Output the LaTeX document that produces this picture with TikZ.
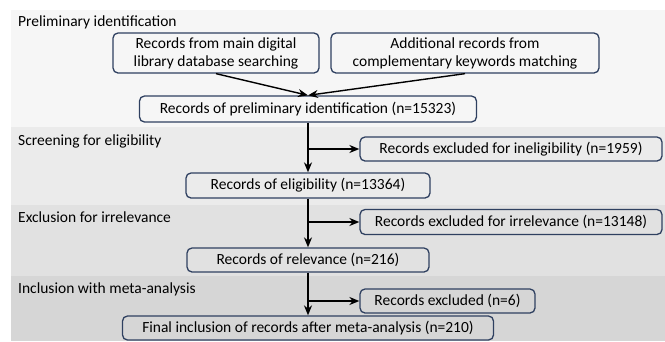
\documentclass[tikz,border=0pt]{standalone}
\usepackage{fontspec}
\setmainfont{Carlito}
\usetikzlibrary{arrows.meta}
\definecolor{bandA}{HTML}{F6F6F6}
\definecolor{bandB}{HTML}{EBEBEB}
\definecolor{bandC}{HTML}{E1E1E1}
\definecolor{bandD}{HTML}{D6D6D6}
\definecolor{boxblue}{HTML}{2F4060}
\begin{document}
\begin{tikzpicture}[x=1pt,y=-1pt,
  box/.style={draw=boxblue, line width=1.3pt, rounded corners=5pt, inner sep=0pt,
    font=\fontsize{15.5}{18}\selectfont, align=center},
  arr/.style={-{Stealth[length=10pt,width=8pt]}, line width=1.4pt, black},
  lbl/.style={anchor=west, inner sep=0pt, font=\fontsize{15.5}{18}\selectfont}]
\useasboundingbox (0,0) rectangle (665,341);
\fill[white] (0,0) rectangle (665,341);
\fill[bandA] (11,10) rectangle (665,127);
\fill[bandB] (11,127) rectangle (665,205);
\fill[bandC] (11,205) rectangle (665,276);
\fill[bandD] (11,276) rectangle (665,341);

\node[lbl] (L1) at (18,22) {Preliminary identification};
\node[lbl] (L2) at (18,141) {Screening for eligibility};
\node[lbl] (L3) at (18,217) {Exclusion for irrelevance};
\node[lbl] (L4) at (18,289) {Inclusion with meta-analysis};

\node[box, minimum width=206pt, minimum height=40pt] (A) at (216,53) {Records from main digital\\library database searching};
\node[box, minimum width=268pt, minimum height=40pt] (B) at (465,53) {Additional records from\\complementary keywords matching};
\node[box, minimum width=337pt, minimum height=26pt] (C) at (308,109) {Records of preliminary identification (n=15323)};
\node[box, minimum width=302pt, minimum height=24pt] (D) at (511,149) {Records excluded for ineligibility (n=1959)};
\node[box, minimum width=244pt, minimum height=25pt] (E) at (308,185.5) {Records of eligibility (n=13364)};
\node[box, minimum width=302pt, minimum height=25pt] (F) at (511,222) {Records excluded for irrelevance (n=13148)};
\node[box, minimum width=242pt, minimum height=24pt] (G) at (308,260) {Records of relevance (n=216)};
\node[box, minimum width=175pt, minimum height=24pt] (H) at (447.5,301) {Records excluded (n=6)};
\node[box, minimum width=371pt, minimum height=24pt] (I) at (308,328) {Final inclusion of records after meta-analysis (n=210)};

\draw[arr] (A.south) -- (C.north);
\draw[arr] (B.south) -- (C.north);
\draw[arr] (C.south) -- (C.south |- E.north);
\draw[arr] (E.south) -- (E.south |- G.north);
\draw[arr] (G.south) -- (G.south |- I.north);
\coordinate (b1) at (C.south |- D.west);
\coordinate (b2) at (E.south |- F.west);
\coordinate (b3) at (G.south |- H.west);
\draw[arr] (b1) -- (D.west);
\draw[arr] (b2) -- (F.west);
\draw[arr] (b3) -- (H.west);
\end{tikzpicture}
\end{document}
